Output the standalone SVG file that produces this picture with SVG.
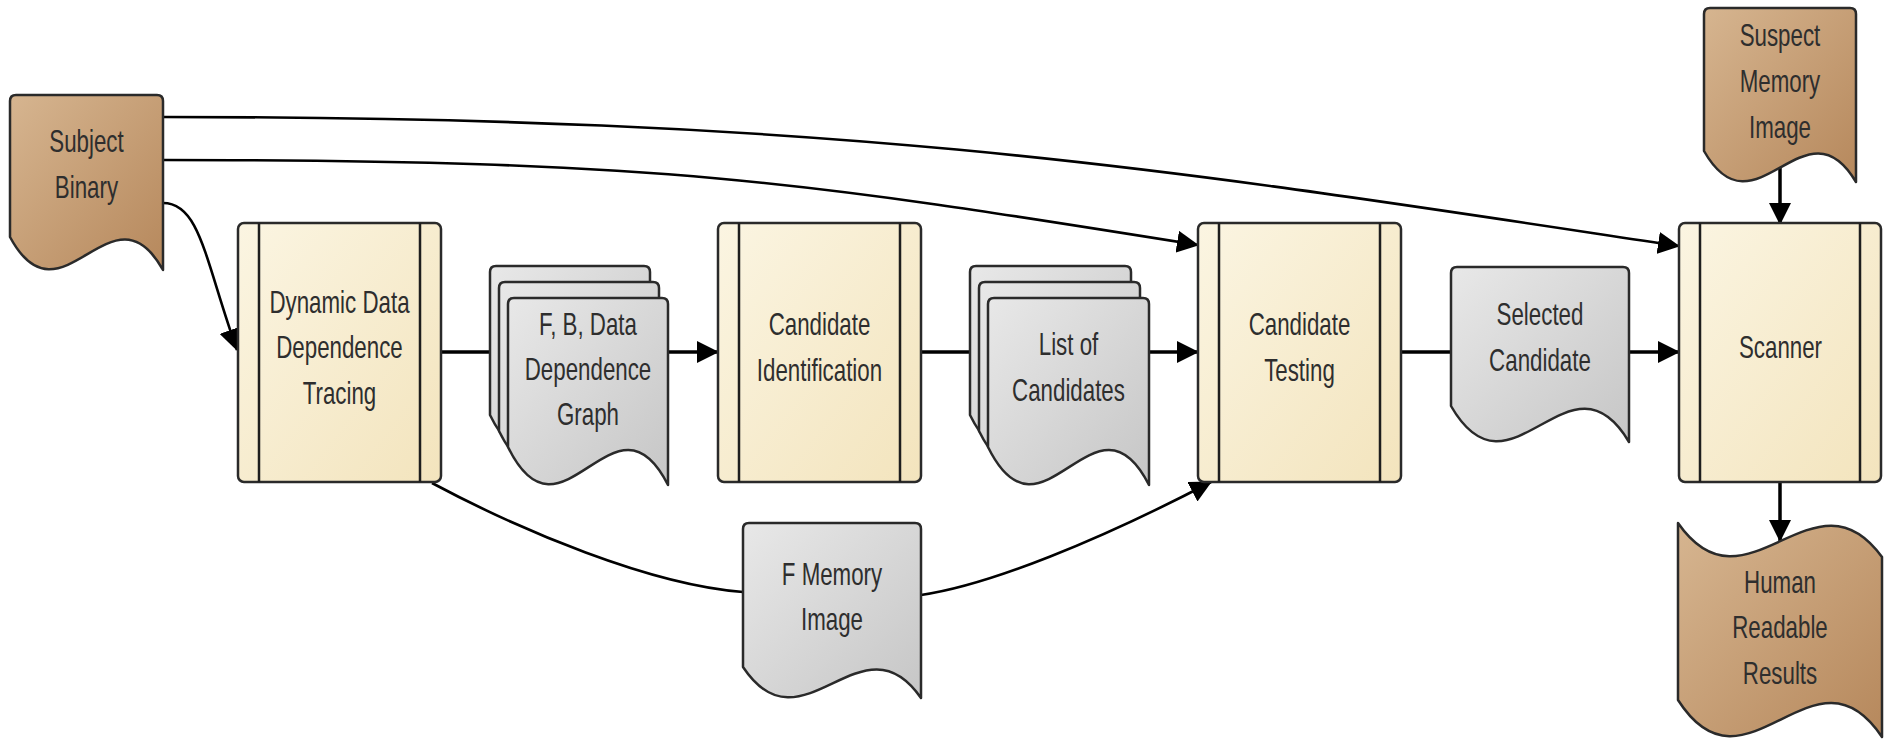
<svg xmlns="http://www.w3.org/2000/svg" width="1884" height="741" viewBox="0 0 1884 741">
<defs>
<linearGradient id="tan" x1="0" y1="0" x2="1" y2="1"><stop offset="0" stop-color="#d6b590"/><stop offset="1" stop-color="#b6885c"/></linearGradient>
<linearGradient id="cream" x1="0" y1="0" x2="1" y2="1"><stop offset="0" stop-color="#fbf5e2"/><stop offset="1" stop-color="#f3e4bd"/></linearGradient>
<linearGradient id="gray" x1="0" y1="0" x2="1" y2="1"><stop offset="0" stop-color="#e8e8e8"/><stop offset="1" stop-color="#c6c6c6"/></linearGradient>
<marker id="ah" markerUnits="userSpaceOnUse" viewBox="0 0 22 22" markerWidth="22" markerHeight="22" refX="21" refY="11" orient="auto"><path d="M0,0 L22,11 L0,22 Z" fill="#000"/></marker>
<path id="fbdoc" d="M508,447 V304 Q508,298 514,298 H662 Q668,298 668,304 V485 C614.7,379.8 561.3,556.1 508,447 Z"/>
<path id="lcdoc" d="M988,447 V304 Q988,298 994,298 H1143 Q1149,298 1149,304 V485 C1095.3,379.8 1041.7,556.1 988,447 Z"/>
</defs>
<style>
.lbl{font-family:"Liberation Sans",Arial,sans-serif;font-size:31px;fill:#2e2e2e;text-anchor:middle}
.shape{stroke:#2a2a2a;stroke-width:2.5;stroke-linejoin:round}
.proc{fill:url(#cream)}
.tan{fill:url(#tan)}
.gry{fill:url(#gray)}
.div{stroke:#1e1e1e;stroke-width:2.5}
.con{fill:none;stroke:#000;stroke-width:2.6}
.thick{fill:none;stroke:#000;stroke-width:3.5}
</style>
<rect width="1884" height="741" fill="#ffffff"/>

<g id="connectors">
<path class="con" d="M163,117 C863,117 1179,171 1679,246" marker-end="url(#ah)"/>
<path class="con" d="M163,160 C663,160 798,181 1198,245" marker-end="url(#ah)"/>
<path class="con" d="M163,203 C200,203 205,260 237,350" marker-end="url(#ah)"/>
<path class="con" d="M432,483 C520,530 650,585 743,592"/>
<path class="con" d="M921,595 C990,585 1100,540 1211,482" marker-end="url(#ah)"/>
<path class="thick" d="M440,352 H492"/>
<path class="thick" d="M668,352 H718" marker-end="url(#ah)"/>
<path class="thick" d="M921,352 H972"/>
<path class="thick" d="M1149,352 H1198" marker-end="url(#ah)"/>
<path class="thick" d="M1401,352 H1451"/>
<path class="thick" d="M1629,352 H1679" marker-end="url(#ah)"/>
<path class="thick" d="M1780,168 V224" marker-end="url(#ah)"/>
<path class="thick" d="M1780,482 V541" marker-end="url(#ah)"/>
</g>

<g id="subject-binary">
<path class="shape tan" d="M10,237 V101 Q10,95 16,95 H157 Q163,95 163,101 V270 C112,178.6 61,331.7 10,237 Z"/>
<g transform="matrix(0.72,0,0,1,24.22,0)"><text class="lbl" x="86.5" y="152">Subject</text><text class="lbl" x="86.5" y="198">Binary</text></g>
</g>

<g id="dynamic-tracing">
<rect class="shape proc" x="238" y="223" width="203" height="259" rx="6"/>
<line class="div" x1="259" y1="223" x2="259" y2="482"/><line class="div" x1="420" y1="223" x2="420" y2="482"/>
<g transform="matrix(0.72,0,0,1,95.06,0)"><text class="lbl" x="339.5" y="313">Dynamic Data</text><text class="lbl" x="339.5" y="358">Dependence</text><text class="lbl" x="339.5" y="404">Tracing</text></g>
</g>

<g id="fb-graph">
<use href="#fbdoc" class="shape gry" transform="translate(-18,-32)"/>
<use href="#fbdoc" class="shape gry" transform="translate(-9,-16)"/>
<use href="#fbdoc" class="shape gry"/>
<g transform="matrix(0.72,0,0,1,164.64,0)"><text class="lbl" x="588" y="335">F, B, Data</text><text class="lbl" x="588" y="380">Dependence</text><text class="lbl" x="588" y="425">Graph</text></g>
</g>

<g id="candidate-identification">
<rect class="shape proc" x="718" y="223" width="203" height="259" rx="6"/>
<line class="div" x1="739" y1="223" x2="739" y2="482"/><line class="div" x1="900" y1="223" x2="900" y2="482"/>
<g transform="matrix(0.72,0,0,1,229.46,0)"><text class="lbl" x="819.5" y="335">Candidate</text><text class="lbl" x="819.5" y="381">Identification</text></g>
</g>

<g id="list-of-candidates">
<use href="#lcdoc" class="shape gry" transform="translate(-18,-32)"/>
<use href="#lcdoc" class="shape gry" transform="translate(-9,-16)"/>
<use href="#lcdoc" class="shape gry"/>
<g transform="matrix(0.72,0,0,1,299.18,0)"><text class="lbl" x="1068.5" y="355">List of</text><text class="lbl" x="1068.5" y="401">Candidates</text></g>
</g>

<g id="candidate-testing">
<rect class="shape proc" x="1198" y="223" width="203" height="259" rx="6"/>
<line class="div" x1="1219" y1="223" x2="1219" y2="482"/><line class="div" x1="1380" y1="223" x2="1380" y2="482"/>
<g transform="matrix(0.72,0,0,1,363.86,0)"><text class="lbl" x="1299.5" y="335">Candidate</text><text class="lbl" x="1299.5" y="381">Testing</text></g>
</g>

<g id="selected-candidate">
<path class="shape gry" d="M1451,406 V273 Q1451,267 1457,267 H1623 Q1629,267 1629,273 V442 C1569.7,342.3 1510.3,509.3 1451,406 Z"/>
<g transform="matrix(0.72,0,0,1,431.2,0)"><text class="lbl" x="1540" y="325">Selected</text><text class="lbl" x="1540" y="371">Candidate</text></g>
</g>

<g id="scanner">
<rect class="shape proc" x="1679" y="223" width="202" height="259" rx="6"/>
<line class="div" x1="1700" y1="223" x2="1700" y2="482"/><line class="div" x1="1860" y1="223" x2="1860" y2="482"/>
<g transform="matrix(0.72,0,0,1,498.54,0)"><text class="lbl" x="1780.5" y="358">Scanner</text></g>
</g>

<g id="suspect-memory-image">
<path class="shape tan" d="M1704,151 V14 Q1704,8 1710,8 H1850 Q1856,8 1856,14 V182 C1805.3,96.1 1754.7,240 1704,151 Z"/>
<g transform="matrix(0.72,0,0,1,498.4,0)"><text class="lbl" x="1780" y="46">Suspect</text><text class="lbl" x="1780" y="92">Memory</text><text class="lbl" x="1780" y="138">Image</text></g>
</g>

<g id="human-readable-results">
<path class="shape tan" d="M1678,523 C1746,620.6 1814,462.8 1882,557 V737 C1814,634.6 1746,806.2 1678,700 Z"/>
<g transform="matrix(0.72,0,0,1,498.4,0)"><text class="lbl" x="1780" y="593">Human</text><text class="lbl" x="1780" y="638">Readable</text><text class="lbl" x="1780" y="684">Results</text></g>
</g>

<g id="f-memory-image">
<path class="shape gry" d="M743,667 V529 Q743,523 749,523 H915 Q921,523 921,529 V698 C861.7,612.1 802.3,756 743,667 Z"/>
<g transform="matrix(0.72,0,0,1,232.96,0)"><text class="lbl" x="832" y="585">F Memory</text><text class="lbl" x="832" y="630">Image</text></g>
</g>
</svg>
